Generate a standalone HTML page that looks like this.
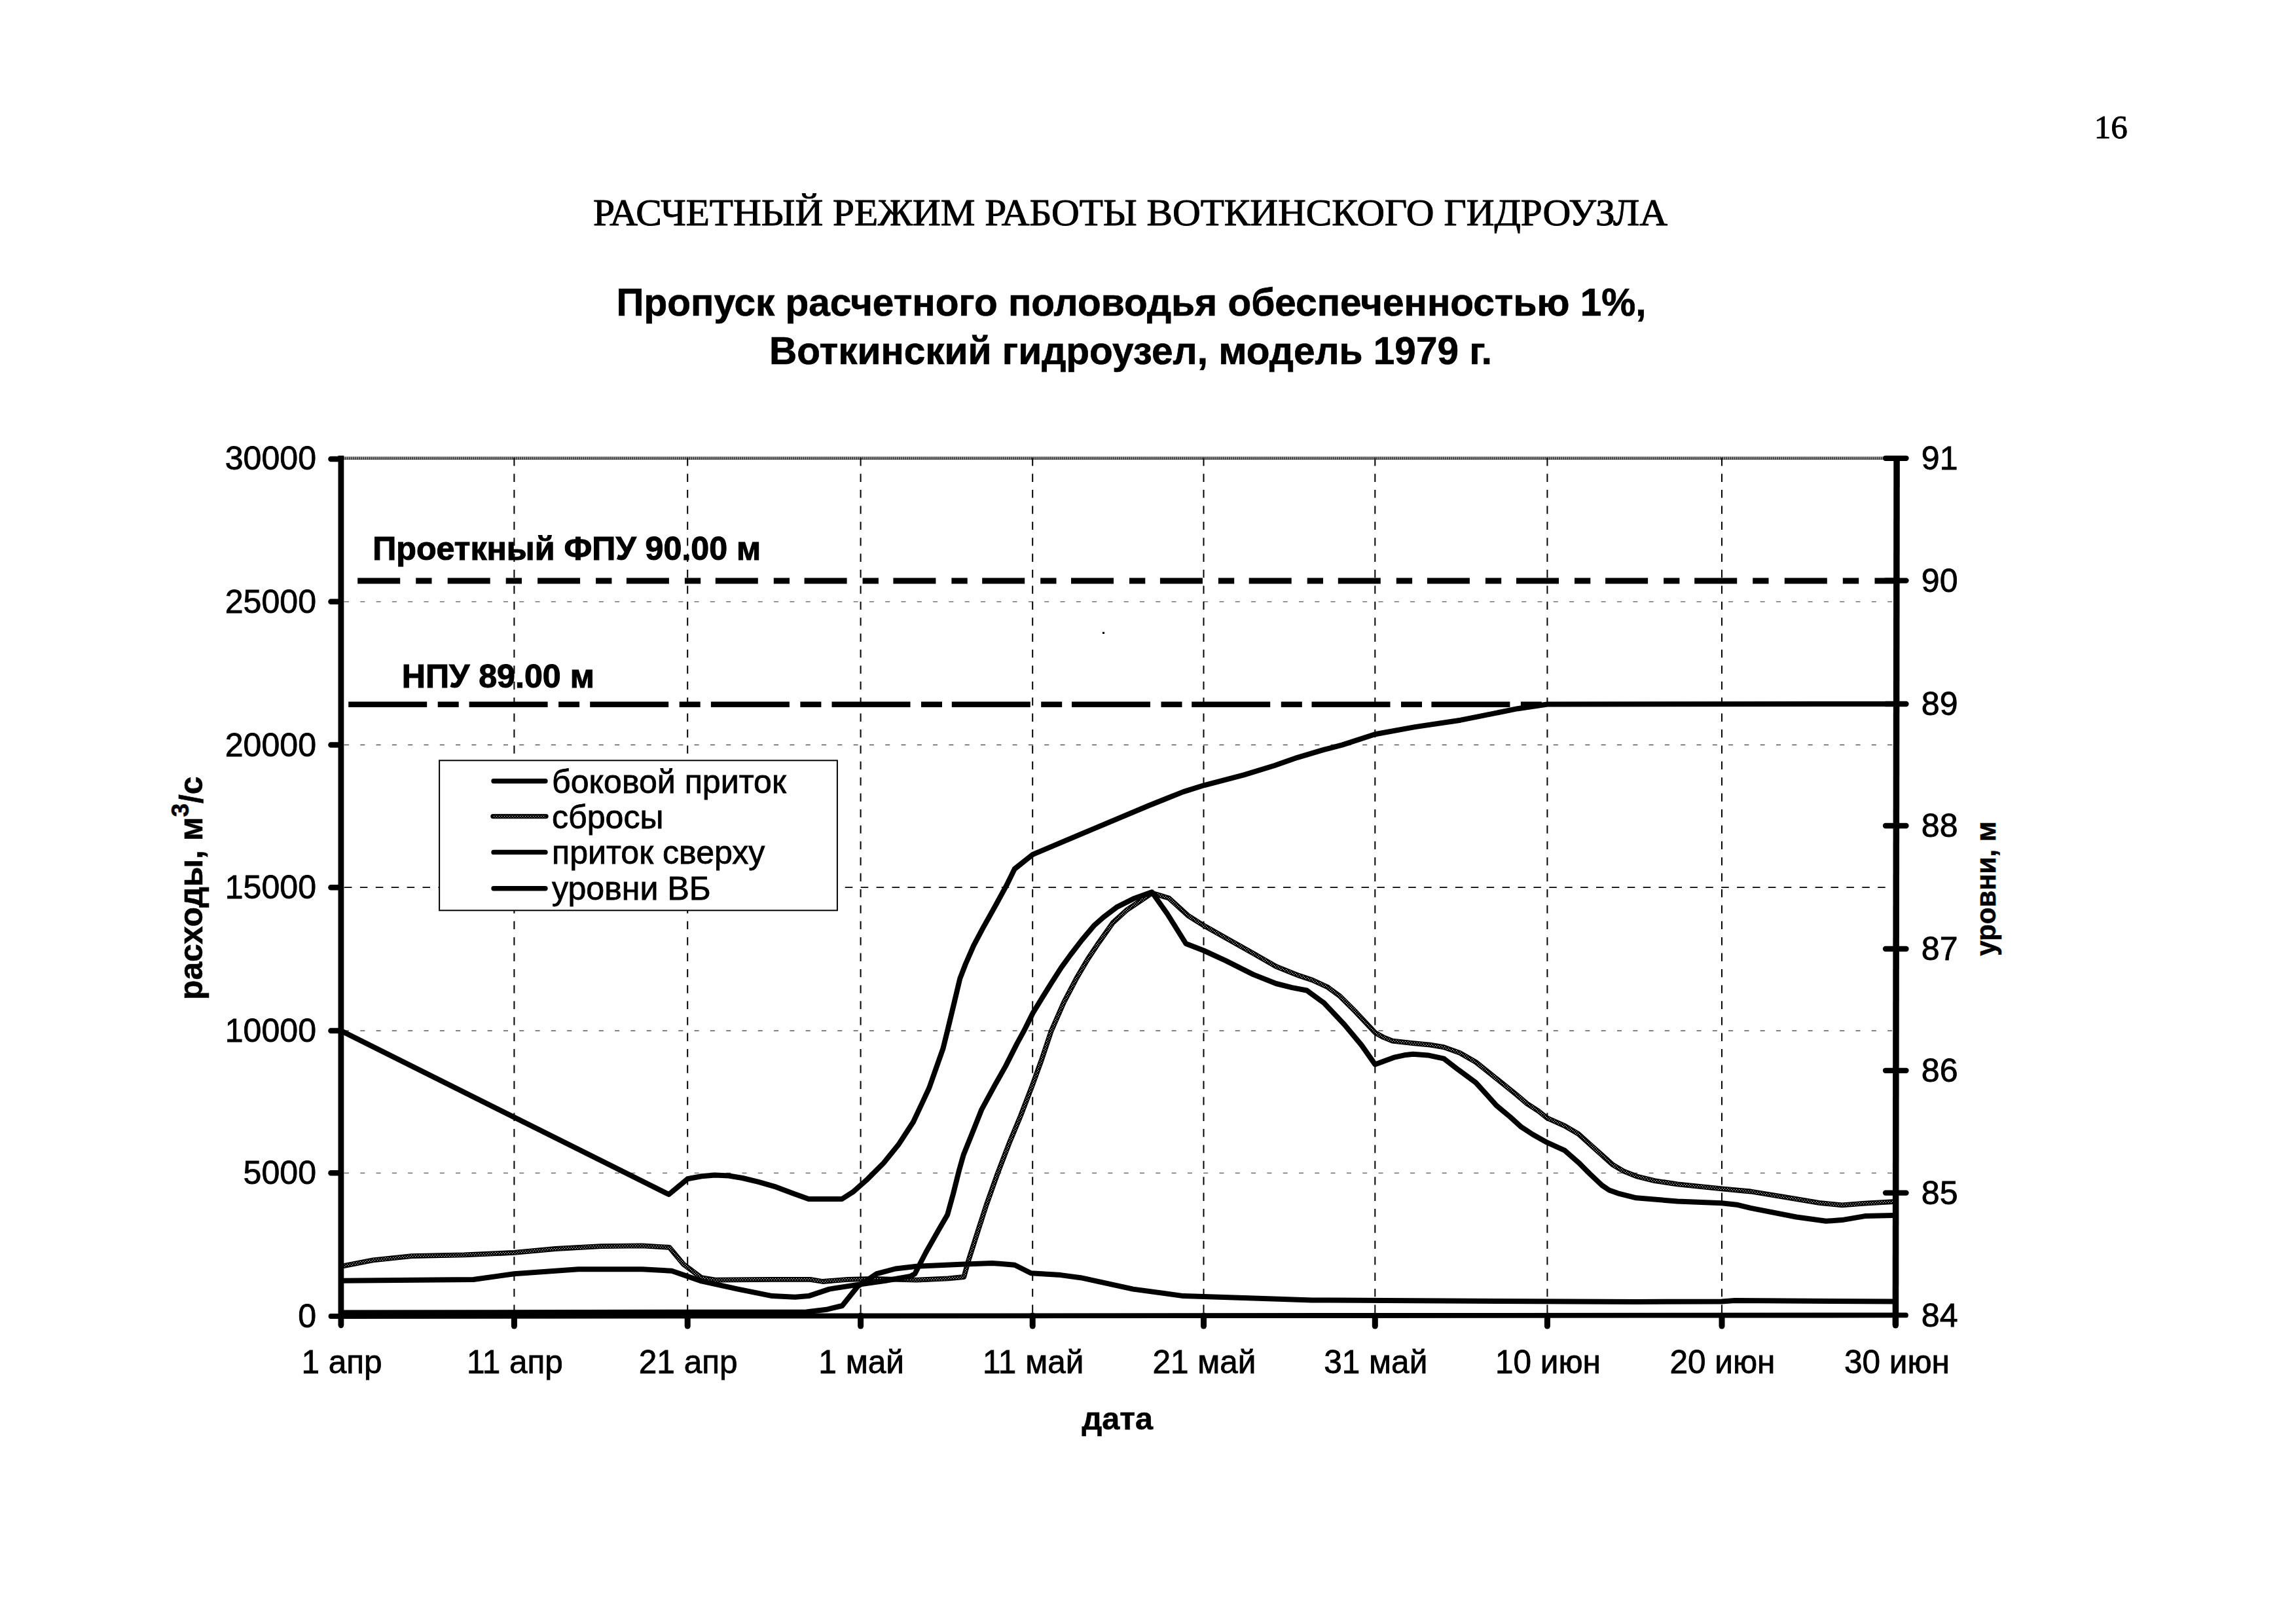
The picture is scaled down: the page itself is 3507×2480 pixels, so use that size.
<!DOCTYPE html>
<html lang="ru"><head><meta charset="utf-8"><title>16</title>
<style>
html,body{margin:0;padding:0;background:#fff;}
body{width:3507px;height:2480px;overflow:hidden;}
svg{display:block;position:absolute;left:0;top:0;}
text{font-family:"Liberation Sans",sans-serif;fill:#000;}
.serif{font-family:"Liberation Serif",serif;}
.b{font-weight:bold;}
.t{font-size:50.1px;stroke:#000;stroke-width:0.8px;}
</style></head><body>
<svg width="3507" height="2480" viewBox="0 0 3507 2480">
<defs>
<pattern id="dz" width="4" height="4" patternUnits="userSpaceOnUse"><rect width="4" height="4" fill="#000"/><rect x="0" y="0" width="1.1" height="1.1" fill="#fff"/><rect x="2" y="2" width="1.1" height="1.1" fill="#fff"/></pattern>
<pattern id="dz2" width="3" height="3" patternUnits="userSpaceOnUse" patternTransform="translate(0,697.5)"><rect width="3" height="3" fill="#000"/><rect x="0.6" y="0.9" width="1.9" height="1.9" fill="#fff"/></pattern>
</defs>
<rect width="3507" height="2480" fill="#fff"/>

<text class="serif" x="3249.7" y="211.3" font-size="51" text-anchor="end" stroke="#000" stroke-width="1.0">16</text>
<text class="serif" x="1726.5" y="344" font-size="57" text-anchor="middle" textLength="1641" lengthAdjust="spacingAndGlyphs" stroke="#000" stroke-width="1.0">РАСЧЕТНЫЙ РЕЖИМ РАБОТЫ ВОТКИНСКОГО ГИДРОУЗЛА</text>
<text class="b" x="1728" y="481.6" font-size="60" text-anchor="middle" textLength="1573" lengthAdjust="spacingAndGlyphs" stroke="#000" stroke-width="0.7">Пропуск расчетного половодья обеспеченностью 1%,</text>
<text class="b" x="1727" y="555.6" font-size="59.5" text-anchor="middle" textLength="1104" lengthAdjust="spacingAndGlyphs" stroke="#000" stroke-width="0.7">Воткинский гидроузел, модель 1979 г.</text>
<line x1="524" y1="699.8" x2="2893" y2="699.8" stroke="url(#dz2)" stroke-width="4.6"/>
<line x1="785.4" y1="699.2" x2="785.4" y2="2006" stroke="#000" stroke-width="2.0" stroke-dasharray="12.3 12.1"/>
<line x1="1050.2" y1="699.2" x2="1050.2" y2="2006" stroke="#000" stroke-width="2.0" stroke-dasharray="12.3 12.1"/>
<line x1="1314.6" y1="699.2" x2="1314.6" y2="2006" stroke="#000" stroke-width="2.0" stroke-dasharray="12.3 12.1"/>
<line x1="1577.2" y1="699.2" x2="1577.2" y2="2006" stroke="#000" stroke-width="2.0" stroke-dasharray="12.3 12.1"/>
<line x1="1838.5" y1="699.2" x2="1838.5" y2="2006" stroke="#000" stroke-width="2.0" stroke-dasharray="12.3 12.1"/>
<line x1="2100.3" y1="699.2" x2="2100.3" y2="2006" stroke="#000" stroke-width="2.0" stroke-dasharray="12.3 12.1"/>
<line x1="2363.4" y1="699.2" x2="2363.4" y2="2006" stroke="#000" stroke-width="2.0" stroke-dasharray="12.3 12.1"/>
<line x1="2630" y1="699.2" x2="2630" y2="2006" stroke="#000" stroke-width="2.0" stroke-dasharray="12.3 12.1"/>
<line x1="526" y1="918.8" x2="2891" y2="918.8" stroke="#000" stroke-width="1.3" stroke-dasharray="7 17.3" opacity="0.65"/>
<line x1="526" y1="1137.5" x2="2891" y2="1137.5" stroke="#000" stroke-width="1.3" stroke-dasharray="7 17.3" opacity="0.65"/>
<line x1="526" y1="1574" x2="2891" y2="1574" stroke="#000" stroke-width="1.3" stroke-dasharray="7 17.3" opacity="0.65"/>
<line x1="526" y1="1791.3" x2="2891" y2="1791.3" stroke="#000" stroke-width="1.3" stroke-dasharray="7 17.3" opacity="0.65"/>
<line x1="526" y1="1355.2" x2="2891" y2="1355.2" stroke="#000" stroke-width="1.8" stroke-dasharray="11.5 12.4"/>
<path d="M546.2 887H611.2M635.2 887H659.5M683.7 887H748.7M772.7 887H797.0M821.1 887H886.1M910.1 887H934.4M956.9 887H1021.9M1045.9 887H1070.2M1092.8 887H1157.8M1181.8 887H1206.0M1228.6 887H1293.6M1317.6 887H1341.9M1364.4 887H1429.4M1453.4 887H1477.7M1500.2 887H1565.2M1589.2 887H1613.5M1636.0 887H1701.0M1725.0 887H1749.3M1771.9 887H1836.9M1860.9 887H1885.2M1907.7 887H1972.7M1996.7 887H2021.0M2043.8 887H2108.8M2132.8 887H2157.1M2179.9 887H2244.9M2268.9 887H2293.2M2316.0 887H2381.0M2405.0 887H2429.3M2452.1 887H2517.1M2541.1 887H2565.4M2588.2 887H2653.2M2677.2 887H2701.5M2725.8 887H2790.8M2814.8 887H2839.2M2863.5 887H2896.0" stroke="#000" stroke-width="9" fill="none"/>
<path d="M532.2 1075.7H652.2M668.7 1075.7H700.7M716.6 1075.7H836.6M853.1 1075.7H885.1M901.2 1075.7H1021.2M1037.7 1075.7H1069.7M1085.9 1075.7H1205.9M1222.4 1075.7H1254.4M1270.5 1075.7H1390.5M1407.0 1075.7H1439.0M1453.8 1075.7H1573.8M1590.2 1075.7H1622.2M1637.0 1075.7H1757.0M1773.5 1075.7H1805.5M1820.2 1075.7H1940.2M1956.8 1075.7H1988.8M2003.5 1075.7H2123.5M2140.0 1075.7H2172.0M2186.4 1075.7H2306.4M2322.9 1075.7H2354.9" stroke="#000" stroke-width="8.5" fill="none"/>
<polyline points="521.0,1933.8 569.7,1924.4 628.9,1918.1 709.1,1916.4 785.4,1912.9 848.4,1907.0 918.1,1903.1 980.8,1902.4 1022.6,1904.9 1043.6,1930.3 1071.4,1951.2 1092.3,1954.7 1180.0,1953.8 1237.5,1953.8 1256.7,1957.0 1295.0,1953.8 1333.3,1952.8 1400.4,1954.7 1448.3,1952.4 1472.3,1950.0 1479.0,1926.0 1494.3,1878.0 1506.5,1840.4 1523.9,1791.6 1541.3,1746.3 1558.7,1704.5 1576.2,1659.2 1590.1,1620.9 1605.6,1574.7 1624.7,1531.2 1643.9,1494.6 1661.3,1465.0 1678.7,1438.9 1699.7,1409.2 1720.6,1390.1 1741.5,1376.1 1759.5,1363.8 1785.3,1371.4 1814.9,1398.4 1838.4,1413.2 1872.4,1432.3 1914.2,1455.9 1949.1,1475.9 1983.9,1489.8 2004.8,1496.8 2027.5,1507.2 2046.6,1521.2 2071.0,1545.6 2100.6,1577.2 2113.0,1584.0 2127.0,1589.7 2158.4,1593.1 2184.5,1595.7 2205.4,1599.2 2229.8,1607.9 2254.2,1621.9 2271.6,1635.8 2289.1,1649.8 2315.2,1670.7 2332.6,1685.5 2350.0,1696.8 2363.1,1707.2 2390.1,1719.4 2411.0,1731.6 2428.4,1747.3 2445.9,1763.0 2463.3,1778.7 2480.0,1788.5 2499.3,1796.2 2527.2,1803.1 2562.0,1808.4 2630.0,1815.3 2674.2,1819.5 2726.5,1828.2 2778.7,1836.9 2813.6,1840.4 2848.4,1837.6 2892.0,1835.2" fill="none" stroke="#000" stroke-width="7.8" stroke-linejoin="round"/>
<polyline points="521.0,1933.8 569.7,1924.4 628.9,1918.1 709.1,1916.4 785.4,1912.9 848.4,1907.0 918.1,1903.1 980.8,1902.4 1022.6,1904.9 1043.6,1930.3 1071.4,1951.2 1092.3,1954.7 1180.0,1953.8 1237.5,1953.8 1256.7,1957.0 1295.0,1953.8 1333.3,1952.8 1400.4,1954.7 1448.3,1952.4 1472.3,1950.0 1479.0,1926.0 1494.3,1878.0 1506.5,1840.4 1523.9,1791.6 1541.3,1746.3 1558.7,1704.5 1576.2,1659.2 1590.1,1620.9 1605.6,1574.7 1624.7,1531.2 1643.9,1494.6 1661.3,1465.0 1678.7,1438.9 1699.7,1409.2 1720.6,1390.1 1741.5,1376.1 1759.5,1363.8 1785.3,1371.4 1814.9,1398.4 1838.4,1413.2 1872.4,1432.3 1914.2,1455.9 1949.1,1475.9 1983.9,1489.8 2004.8,1496.8 2027.5,1507.2 2046.6,1521.2 2071.0,1545.6 2100.6,1577.2 2113.0,1584.0 2127.0,1589.7 2158.4,1593.1 2184.5,1595.7 2205.4,1599.2 2229.8,1607.9 2254.2,1621.9 2271.6,1635.8 2289.1,1649.8 2315.2,1670.7 2332.6,1685.5 2350.0,1696.8 2363.1,1707.2 2390.1,1719.4 2411.0,1731.6 2428.4,1747.3 2445.9,1763.0 2463.3,1778.7 2480.0,1788.5 2499.3,1796.2 2527.2,1803.1 2562.0,1808.4 2630.0,1815.3 2674.2,1819.5 2726.5,1828.2 2778.7,1836.9 2813.6,1840.4 2848.4,1837.6 2892.0,1835.2" fill="none" stroke="url(#dz)" stroke-width="4.2" stroke-linejoin="round"/>
<polyline points="521.0,2004.5 1231.7,2003.5 1262.4,1999.8 1286.4,1994.0 1310.3,1964.3 1339.1,1945.2 1367.8,1937.5 1400.4,1933.7 1467.5,1930.8 1515.4,1928.9 1549.9,1931.7 1574.8,1944.2 1620.0,1947.1 1650.7,1951.2 1730.8,1968.6 1807.5,1979.1 1838.9,1980.1 1900.0,1981.9 2004.5,1985.4 2500.0,1988.0 2630.0,1987.5 2650.0,1986.0 2892.0,1987.5" fill="none" stroke="#000" stroke-width="8" stroke-linejoin="round"/>
<polyline points="521.0,1955.7 723.0,1954.0 785.4,1945.3 883.3,1938.3 980.8,1938.3 1026.1,1940.8 1071.4,1956.4 1127.2,1968.6 1179.4,1979.1 1214.3,1980.8 1235.2,1979.1 1266.6,1968.6 1300.0,1963.4 1352.5,1955.7 1390.8,1949.0 1397.5,1945.0 1414.0,1913.0 1433.3,1879.0 1447.2,1855.0 1456.0,1823.0 1464.7,1788.2 1471.6,1763.8 1485.6,1728.9 1499.5,1694.1 1520.4,1655.7 1536.1,1627.9 1553.3,1593.9 1563.8,1574.7 1577.7,1546.9 1591.6,1524.2 1605.6,1501.6 1621.3,1477.2 1635.2,1458.0 1652.6,1435.4 1671.8,1412.7 1685.7,1400.5 1706.6,1384.8 1731.0,1372.6 1759.5,1362.2 1783.6,1396.5 1811.4,1441.0 1838.4,1451.5 1872.4,1467.2 1914.2,1488.1 1949.1,1502.0 1973.4,1508.1 1996.1,1512.5 2022.2,1531.6 2053.6,1564.7 2079.7,1596.1 2100.3,1625.4 2128.8,1614.9 2145.0,1611.3 2158.4,1609.7 2181.0,1611.4 2205.4,1616.7 2228.1,1634.1 2254.2,1653.2 2271.6,1672.4 2285.6,1688.1 2306.5,1705.5 2323.9,1721.2 2341.3,1732.5 2363.1,1744.7 2390.1,1756.9 2411.0,1775.2 2428.4,1792.6 2447.0,1810.1 2458.0,1817.5 2471.4,1822.3 2499.3,1829.3 2562.0,1834.5 2630.0,1837.3 2652.6,1839.7 2674.2,1844.9 2743.9,1858.5 2789.2,1864.8 2813.6,1863.1 2848.4,1857.1 2892.0,1856.1" fill="none" stroke="#000" stroke-width="8" stroke-linejoin="round"/>
<polyline points="521.0,1574.2 1021.6,1824.0 1050.2,1800.3 1071.4,1796.2 1092.3,1794.4 1113.2,1795.5 1134.1,1799.0 1158.5,1804.9 1182.9,1811.8 1210.8,1822.3 1235.2,1831.0 1286.0,1831.0 1302.6,1820.4 1323.6,1802.1 1349.7,1776.0 1372.3,1748.1 1395.0,1713.2 1408.9,1683.6 1419.4,1661.0 1429.8,1631.4 1440.3,1601.7 1447.0,1574.7 1457.5,1531.2 1466.2,1494.6 1474.9,1472.0 1487.1,1444.1 1501.0,1417.9 1518.5,1386.6 1537.6,1351.7 1549.7,1327.0 1577.5,1304.9 1668.1,1266.6 1755.2,1230.0 1807.5,1209.1 1838.9,1199.3 1900.0,1183.3 1946.9,1169.0 1981.7,1156.8 2022.0,1144.9 2050.0,1137.6 2100.3,1121.3 2161.3,1110.1 2231.0,1099.7 2318.1,1082.2 2363.4,1075.5 2896.0,1075.0" fill="none" stroke="#000" stroke-width="8" stroke-linejoin="round"/>
<path d="M520.9 695.7V2024" stroke="#000" stroke-width="8.8" fill="none"/><circle cx="520.9" cy="2024" r="4.2"/>
<path d="M2897.1 696L2895.4 2024" stroke="#000" stroke-width="9.5" fill="none"/><circle cx="2895.4" cy="2024" r="4.6"/>
<line x1="505.5" y1="2010" x2="2911" y2="2008.4" stroke="#000" stroke-width="7.8" stroke-linecap="round"/>
<line x1="785.4" y1="2009" x2="785.4" y2="2025" stroke="#000" stroke-width="9" stroke-linecap="round"/>
<line x1="1050.2" y1="2009" x2="1050.2" y2="2025" stroke="#000" stroke-width="9" stroke-linecap="round"/>
<line x1="1314.6" y1="2009" x2="1314.6" y2="2025" stroke="#000" stroke-width="9" stroke-linecap="round"/>
<line x1="1577.2" y1="2009" x2="1577.2" y2="2025" stroke="#000" stroke-width="9" stroke-linecap="round"/>
<line x1="1838.5" y1="2009" x2="1838.5" y2="2025" stroke="#000" stroke-width="9" stroke-linecap="round"/>
<line x1="2100.3" y1="2009" x2="2100.3" y2="2025" stroke="#000" stroke-width="9" stroke-linecap="round"/>
<line x1="2363.4" y1="2009" x2="2363.4" y2="2025" stroke="#000" stroke-width="9" stroke-linecap="round"/>
<line x1="2630" y1="2009" x2="2630" y2="2025" stroke="#000" stroke-width="9" stroke-linecap="round"/>
<line x1="505.5" y1="701" x2="521" y2="701" stroke="#000" stroke-width="8.6" stroke-linecap="round"/>
<line x1="505.5" y1="918.8" x2="521" y2="918.8" stroke="#000" stroke-width="8.6" stroke-linecap="round"/>
<line x1="505.5" y1="1137.5" x2="521" y2="1137.5" stroke="#000" stroke-width="8.6" stroke-linecap="round"/>
<line x1="505.5" y1="1355.2" x2="521" y2="1355.2" stroke="#000" stroke-width="8.6" stroke-linecap="round"/>
<line x1="505.5" y1="1574" x2="521" y2="1574" stroke="#000" stroke-width="8.6" stroke-linecap="round"/>
<line x1="505.5" y1="1791.3" x2="521" y2="1791.3" stroke="#000" stroke-width="8.6" stroke-linecap="round"/>
<line x1="2880" y1="699.8" x2="2911.5" y2="699.8" stroke="#000" stroke-width="8.3" stroke-linecap="round"/>
<line x1="2880" y1="886.6" x2="2911.5" y2="886.6" stroke="#000" stroke-width="8.3" stroke-linecap="round"/>
<line x1="2880" y1="1075" x2="2911.5" y2="1075" stroke="#000" stroke-width="8.3" stroke-linecap="round"/>
<line x1="2880" y1="1261" x2="2911.5" y2="1261" stroke="#000" stroke-width="8.3" stroke-linecap="round"/>
<line x1="2880" y1="1449" x2="2911.5" y2="1449" stroke="#000" stroke-width="8.3" stroke-linecap="round"/>
<line x1="2880" y1="1634.8" x2="2911.5" y2="1634.8" stroke="#000" stroke-width="8.3" stroke-linecap="round"/>
<line x1="2880" y1="1821.6" x2="2911.5" y2="1821.6" stroke="#000" stroke-width="8.3" stroke-linecap="round"/>
<text class="t" x="483" y="717.2" text-anchor="end">30000</text>
<text class="t" x="483" y="935.8" text-anchor="end">25000</text>
<text class="t" x="483" y="1154.5" text-anchor="end">20000</text>
<text class="t" x="483" y="1372.2" text-anchor="end">15000</text>
<text class="t" x="483" y="1591.0" text-anchor="end">10000</text>
<text class="t" x="483" y="1808.3" text-anchor="end">5000</text>
<text class="t" x="483" y="2026.5" text-anchor="end">0</text>
<text class="t" x="2934.8" y="717.2">91</text>
<text class="t" x="2934.8" y="904.0">90</text>
<text class="t" x="2934.8" y="1092.4">89</text>
<text class="t" x="2934.8" y="1277.6">88</text>
<text class="t" x="2934.8" y="1465.6">87</text>
<text class="t" x="2934.8" y="1652.2">86</text>
<text class="t" x="2934.8" y="1839.0">85</text>
<text class="t" x="2934.8" y="2025.8">84</text>
<text class="t" x="522.0" y="2096.8" style="font-size:49.5px" text-anchor="middle">1 апр</text>
<text class="t" x="786.4" y="2096.8" style="font-size:49.5px" text-anchor="middle">11 апр</text>
<text class="t" x="1051.2" y="2096.8" style="font-size:49.5px" text-anchor="middle">21 апр</text>
<text class="t" x="1315.6" y="2096.8" style="font-size:49.5px" text-anchor="middle">1 май</text>
<text class="t" x="1578.2" y="2096.8" style="font-size:49.5px" text-anchor="middle">11 май</text>
<text class="t" x="1839.5" y="2096.8" style="font-size:49.5px" text-anchor="middle">21 май</text>
<text class="t" x="2101.3" y="2096.8" style="font-size:49.5px" text-anchor="middle">31 май</text>
<text class="t" x="2364.4" y="2096.8" style="font-size:49.5px" text-anchor="middle">10 июн</text>
<text class="t" x="2631.0" y="2096.8" style="font-size:49.5px" text-anchor="middle">20 июн</text>
<text class="t" x="2897.4" y="2096.8" style="font-size:49.5px" text-anchor="middle">30 июн</text>
<text class="b" x="1706.8" y="2183" font-size="48.5" text-anchor="middle" stroke="#000" stroke-width="0.6">дата</text>
<text class="b" transform="translate(309.4,1356.2) rotate(-90)" font-size="49.7" text-anchor="middle" stroke="#000" stroke-width="0.6">расходы, м<tspan font-size="37" dy="-21.5">3</tspan><tspan dy="21.5">/с</tspan></text>
<text class="b" transform="translate(3047.5,1357) rotate(-90)" font-size="42" text-anchor="middle" stroke="#000" stroke-width="0.6">уровни, м</text>
<text class="b" x="569.2" y="854.5" font-size="50.2" stroke="#000" stroke-width="1.1">Проеткный ФПУ 90.00 м</text>
<text class="b" x="613.7" y="1050.3" font-size="50.2" stroke="#000" stroke-width="1.1">НПУ 89.00 м</text>
<rect x="671.1" y="1161.3" width="607.8" height="229" fill="#fff" stroke="#000" stroke-width="2"/>
<line x1="754" y1="1192.7" x2="833" y2="1192.7" stroke="#000" stroke-width="7.4" stroke-linecap="round"/>
<text class="t" x="843" y="1211.1">боковой приток</text>
<line x1="753" y1="1246.6" x2="834" y2="1246.6" stroke="#000" stroke-width="7.4" stroke-linecap="round"/>
<line x1="753" y1="1246.6" x2="834" y2="1246.6" stroke="url(#dz)" stroke-width="3.6"/>
<text class="t" x="843" y="1265">сбросы</text>
<line x1="754" y1="1301.4" x2="833" y2="1301.4" stroke="#000" stroke-width="7.4" stroke-linecap="round"/>
<text class="t" x="843" y="1319.2">приток сверху</text>
<line x1="754" y1="1356.8" x2="833" y2="1356.8" stroke="#000" stroke-width="7.4" stroke-linecap="round"/>
<text class="t" x="843" y="1374">уровни ВБ</text>
<rect x="1684" y="965" width="3" height="3" fill="#000"/>
</svg></body></html>
